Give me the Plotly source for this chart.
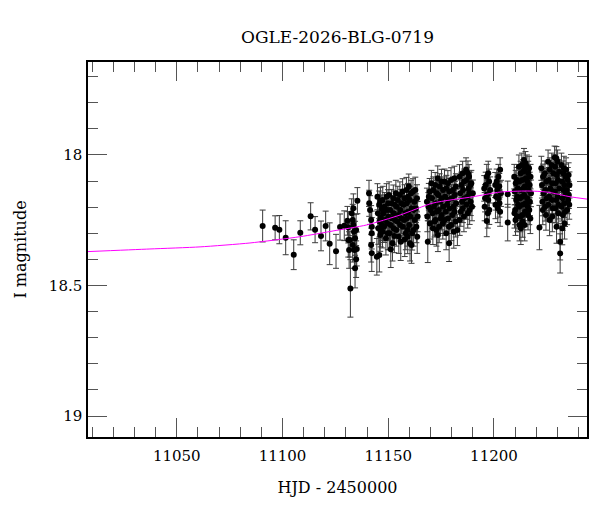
import plotly.graph_objects as go

# OGLE I-band photometry (HJD - 2450000, I mag, 1-sigma error)
hjd = [
    # early sparse points
    11090.6, 11096.5, 11098.5, 11101.5, 11105.3, 11108.4, 11113.3, 11115.4, 11118.2, 11120.4, 11122.3, 11125.3, 11127.2, 11129.2,
    # column near 11133
    11130.7, 11131.1, 11131.1, 11131.5, 11132.1, 11132.7, 11133.2, 11133.5, 11133.8, 11134.3, 11134.0, 11134.3, 11134.8, 11135.1, 11135.4, 11134.8, 11133.5, 11131.9, 11133.2,
    # column near 11142
    11140.9, 11141.0, 11141.4, 11141.9, 11142.2, 11142.2, 11141.9, 11142.2, 11144.6, 11145.8,
    # block 11144-11164
    11144.9, 11145.7, 11145.1, 11145.9, 11145.3, 11146.2,
    11147.4, 11148.3, 11147.8, 11148.6, 11148.0, 11147.3, 11148.9,
    11150.4, 11151.5, 11150.9, 11151.8, 11151.2, 11150.6, 11152.0, 11151.2,
    11153.6, 11154.5, 11154.0, 11154.9, 11154.3, 11153.8, 11155.0, 11155.9,
    11156.8, 11157.7, 11157.2, 11158.1, 11157.5, 11156.9, 11158.3, 11157.8,
    11159.7, 11160.8, 11160.2, 11161.1, 11160.5, 11159.9, 11161.3, 11160.3, 11161.0,
    11162.8, 11163.6, 11163.1, 11163.9, 11163.3, 11163.7,
    11146.3, 11146.9, 11146.5, 11147.0, 11146.4,
    11149.2, 11149.9, 11149.4, 11150.1, 11149.5, 11149.8,
    11152.4, 11153.1, 11152.6, 11153.2, 11152.5, 11152.9,
    11155.5, 11156.2, 11155.7, 11156.3, 11155.6,
    11158.6, 11159.3, 11158.8, 11159.4, 11158.7, 11159.1, 11159.2,
    11161.7, 11162.4, 11161.9, 11162.5, 11162.0,
    # block 11168-11190
    11168.7, 11168.3, 11169.0, 11168.5, 11169.2,
    11170.4, 11171.3, 11170.7, 11171.6, 11170.9, 11171.9, 11171.1,
    11173.4, 11174.3, 11173.7, 11174.6, 11173.9, 11174.8, 11174.1, 11173.5,
    11176.6, 11177.5, 11176.9, 11177.8, 11177.2, 11176.7, 11177.4,
    11178.8,
    11179.7, 11180.6, 11180.0, 11180.9, 11180.3, 11179.8, 11181.0,
    11182.7,
    11183.7, 11184.6, 11184.0, 11184.9, 11184.3, 11183.8,
    11186.8, 11187.7, 11187.1, 11188.0, 11187.4, 11186.9, 11187.6,
    11189.3, 11190.0, 11189.6,
    11169.6, 11170.1, 11169.7,
    11172.2, 11172.9, 11172.4, 11173.0, 11172.3, 11172.8,
    11175.2, 11175.9, 11175.4, 11176.0, 11175.3, 11175.8,
    11178.2, 11178.9, 11178.4, 11179.0, 11178.3, 11178.7,
    11181.3, 11182.0, 11181.5, 11182.1, 11181.4, 11181.9,
    11185.2, 11185.9, 11185.4, 11186.0, 11185.3, 11185.8,
    11188.2, 11188.9, 11188.4, 11189.0, 11188.5,
    # columns 11196-11207
    11196.1, 11196.6, 11197.3, 11197.7, 11198.2, 11197.3, 11197.1, 11196.6, 11197.8, 11196.9,
    11201.3, 11202.1, 11202.9, 11201.6, 11202.1, 11202.6, 11201.8, 11202.9, 11203.3, 11202.5,
    11206.5, 11206.5,
    11195.4, 11195.8, 11195.6,
    11200.6, 11201.0, 11200.7,
    # block 11209-11218
    11209.6, 11210.3, 11209.8, 11210.5, 11210.0, 11209.7, 11210.2,
    11211.8, 11212.6, 11212.0, 11212.8, 11212.3, 11211.9, 11212.5, 11212.1, 11212.7,
    11214.2, 11214.9, 11214.4, 11215.1, 11214.6, 11214.3, 11215.0, 11214.7, 11214.5,
    11216.6, 11217.3, 11216.9, 11217.5, 11217.0, 11216.7, 11217.2,
    11210.8, 11211.3, 11211.0, 11211.4, 11210.9,
    11213.2, 11213.8, 11213.4, 11213.9, 11213.3, 11213.7, 11213.5, 11213.6,
    11215.6, 11216.2, 11215.8, 11216.3, 11215.7, 11216.0, 11216.1,
    # block 11221-11236
    11221.5,
    11222.4, 11223.2, 11222.7, 11223.4, 11222.9, 11223.1,
    11225.6, 11226.4, 11225.9, 11226.6, 11226.1, 11225.7, 11226.3,
    11228.7, 11229.5, 11228.9, 11229.7, 11229.2, 11228.8, 11229.4, 11229.0, 11229.6,
    11231.3, 11231.3,
    11231.9, 11232.7, 11232.2, 11232.9, 11232.4, 11232.0, 11232.6, 11232.3,
    11234.1, 11234.9, 11234.4, 11235.1, 11234.6,
    11224.1, 11224.8, 11224.3, 11224.9, 11224.2, 11224.6,
    11227.3, 11228.0, 11227.5, 11228.1, 11227.4, 11227.8, 11227.6,
    11230.1, 11230.8, 11230.3, 11230.9, 11230.2, 11230.6, 11230.4,
    11233.1, 11233.8, 11233.3, 11233.9, 11233.2, 11233.6, 11233.4,
    11235.3, 11235.7, 11235.4, 11235.6,
]

mag = [
    18.272, 18.279, 18.286, 18.317, 18.382, 18.298, 18.235, 18.286, 18.310, 18.272, 18.340, 18.369, 18.276, 18.271,
    18.252, 18.277, 18.326, 18.364, 18.511, 18.223, 18.249, 18.268, 18.294, 18.319, 18.364, 18.434, 18.399, 18.360, 18.175, 18.287, 18.204, 18.326, 18.345,
    18.147, 18.185, 18.211, 18.249, 18.275, 18.300, 18.345, 18.376, 18.390, 18.383,
    18.160, 18.191, 18.223, 18.255, 18.281, 18.306,
    18.172, 18.198, 18.223, 18.249, 18.275, 18.294, 18.319,
    18.153, 18.185, 18.211, 18.243, 18.268, 18.300, 18.338, 18.361,
    18.147, 18.172, 18.198, 18.230, 18.255, 18.287, 18.313, 18.332,
    18.140, 18.166, 18.191, 18.223, 18.249, 18.275, 18.300, 18.323,
    18.121, 18.147, 18.172, 18.204, 18.236, 18.268, 18.300, 18.338, 18.345,
    18.134, 18.166, 18.204, 18.236, 18.275, 18.313,
    18.176, 18.207, 18.239, 18.268, 18.290,
    18.160, 18.185, 18.211, 18.236, 18.262, 18.300,
    18.166, 18.191, 18.223, 18.249, 18.281, 18.310,
    18.153, 18.185, 18.211, 18.243, 18.268,
    18.134, 18.160, 18.185, 18.217, 18.243, 18.287, 18.313,
    18.140, 18.179, 18.211, 18.249, 18.287,
    18.332, 18.179, 18.198, 18.236, 18.160,
    18.108, 18.134, 18.166, 18.198, 18.223, 18.255, 18.281,
    18.089, 18.121, 18.153, 18.179, 18.211, 18.243, 18.275, 18.306,
    18.102, 18.128, 18.160, 18.191, 18.217, 18.249, 18.300,
    18.338,
    18.096, 18.134, 18.166, 18.198, 18.230, 18.268, 18.294,
    18.287,
    18.083, 18.115, 18.147, 18.179, 18.217, 18.249,
    18.057, 18.070, 18.096, 18.128, 18.160, 18.191, 18.223,
    18.108, 18.147, 18.198,
    18.140, 18.211, 18.262,
    18.115, 18.147, 18.185, 18.217, 18.249, 18.287,
    18.102, 18.134, 18.166, 18.198, 18.230, 18.262,
    18.108, 18.140, 18.172, 18.204, 18.243, 18.275,
    18.089, 18.121, 18.153, 18.185, 18.217, 18.255,
    18.070, 18.102, 18.134, 18.166, 18.204, 18.236,
    18.083, 18.115, 18.147, 18.179, 18.211,
    18.115, 18.083, 18.070, 18.102, 18.134, 18.172, 18.223, 18.253, 18.211, 18.150,
    18.102, 18.083, 18.057, 18.134, 18.166, 18.185, 18.204, 18.217, 18.147, 18.120,
    18.150, 18.259,
    18.128, 18.166, 18.198,
    18.115, 18.160, 18.191,
    18.083, 18.108, 18.140, 18.172, 18.211, 18.223, 18.249,
    18.045, 18.070, 18.102, 18.134, 18.166, 18.198, 18.236, 18.268, 18.281,
    18.019, 18.032, 18.057, 18.089, 18.121, 18.153, 18.185, 18.217, 18.268,
    18.051, 18.083, 18.115, 18.147, 18.179, 18.211, 18.243,
    18.096, 18.128, 18.160, 18.191, 18.236,
    18.038, 18.064, 18.096, 18.128, 18.160, 18.191, 18.230, 18.255,
    18.045, 18.070, 18.102, 18.134, 18.166, 18.198, 18.230,
    18.278,
    18.051, 18.083, 18.115, 18.147, 18.179, 18.211,
    18.026, 18.057, 18.096, 18.128, 18.160, 18.191, 18.249,
    18.010, 18.013, 18.045, 18.077, 18.108, 18.140, 18.172, 18.204, 18.275,
    18.332, 18.377,
    18.038, 18.070, 18.102, 18.134, 18.166, 18.198, 18.230, 18.281,
    18.057, 18.096, 18.134, 18.172, 18.211,
    18.070, 18.102, 18.134, 18.166, 18.198, 18.230,
    18.038, 18.070, 18.108, 18.140, 18.172, 18.204, 18.236,
    18.026, 18.064, 18.096, 18.128, 18.160, 18.191, 18.223,
    18.051, 18.083, 18.115, 18.153, 18.185, 18.217, 18.262,
    18.077, 18.115, 18.153, 18.191,
]

mag_err = [
    0.061, 0.046, 0.054, 0.065, 0.057, 0.046, 0.052, 0.050, 0.057, 0.057, 0.080, 0.065, 0.050, 0.057,
    0.055, 0.060, 0.065, 0.070, 0.110, 0.055, 0.060, 0.060, 0.065, 0.065, 0.070, 0.075, 0.070, 0.065, 0.050, 0.060, 0.055, 0.065, 0.065,
    0.050, 0.050, 0.055, 0.055, 0.060, 0.060, 0.065, 0.070, 0.070, 0.065,
    0.050, 0.053, 0.056, 0.058, 0.061, 0.063,
    0.052, 0.054, 0.055, 0.058, 0.060, 0.062, 0.064,
    0.050, 0.053, 0.055, 0.057, 0.060, 0.063, 0.068, 0.070,
    0.050, 0.052, 0.054, 0.057, 0.059, 0.062, 0.064, 0.072,
    0.049, 0.052, 0.054, 0.056, 0.058, 0.061, 0.063, 0.066,
    0.048, 0.050, 0.052, 0.055, 0.058, 0.061, 0.064, 0.068, 0.070,
    0.049, 0.052, 0.055, 0.058, 0.061, 0.064,
    0.051, 0.054, 0.057, 0.060, 0.062,
    0.050, 0.052, 0.055, 0.057, 0.060, 0.063,
    0.051, 0.053, 0.056, 0.058, 0.062, 0.064,
    0.050, 0.053, 0.055, 0.058, 0.061,
    0.048, 0.051, 0.053, 0.056, 0.058, 0.062, 0.065,
    0.049, 0.052, 0.055, 0.059, 0.062,
    0.080, 0.052, 0.054, 0.058, 0.051,
    0.049, 0.050, 0.052, 0.054, 0.057, 0.059, 0.062,
    0.047, 0.049, 0.051, 0.053, 0.055, 0.058, 0.061, 0.064,
    0.048, 0.050, 0.052, 0.054, 0.056, 0.059, 0.063,
    0.070,
    0.047, 0.050, 0.052, 0.054, 0.057, 0.060, 0.063,
    0.060,
    0.046, 0.049, 0.051, 0.053, 0.056, 0.059,
    0.046, 0.047, 0.049, 0.051, 0.053, 0.055, 0.057,
    0.049, 0.051, 0.054,
    0.050, 0.055, 0.060,
    0.048, 0.050, 0.053, 0.055, 0.058, 0.062,
    0.047, 0.050, 0.052, 0.054, 0.057, 0.060,
    0.048, 0.050, 0.052, 0.055, 0.058, 0.061,
    0.046, 0.049, 0.051, 0.054, 0.056, 0.059,
    0.046, 0.048, 0.050, 0.052, 0.055, 0.058,
    0.046, 0.049, 0.051, 0.053, 0.055,
    0.049, 0.047, 0.046, 0.048, 0.050, 0.053, 0.057, 0.060, 0.055, 0.051,
    0.048, 0.047, 0.046, 0.050, 0.052, 0.053, 0.055, 0.056, 0.050, 0.049,
    0.050, 0.070,
    0.049, 0.052, 0.054,
    0.048, 0.051, 0.053,
    0.047, 0.049, 0.051, 0.053, 0.056, 0.057, 0.059,
    0.045, 0.046, 0.048, 0.050, 0.052, 0.054, 0.058, 0.061, 0.062,
    0.044, 0.045, 0.046, 0.048, 0.050, 0.052, 0.054, 0.056, 0.061,
    0.046, 0.047, 0.049, 0.051, 0.053, 0.056, 0.058,
    0.048, 0.050, 0.052, 0.054, 0.058,
    0.045, 0.046, 0.048, 0.050, 0.052, 0.054, 0.057, 0.060,
    0.045, 0.046, 0.048, 0.050, 0.052, 0.054, 0.057,
    0.085,
    0.046, 0.048, 0.050, 0.052, 0.054, 0.056,
    0.045, 0.046, 0.048, 0.050, 0.052, 0.054, 0.060,
    0.044, 0.045, 0.046, 0.048, 0.050, 0.052, 0.054, 0.056, 0.063,
    0.070, 0.075,
    0.045, 0.047, 0.049, 0.051, 0.053, 0.055, 0.058, 0.063,
    0.046, 0.048, 0.051, 0.053, 0.056,
    0.047, 0.049, 0.051, 0.053, 0.055, 0.058,
    0.045, 0.047, 0.049, 0.051, 0.053, 0.055, 0.058,
    0.045, 0.046, 0.048, 0.050, 0.052, 0.054, 0.057,
    0.046, 0.048, 0.050, 0.052, 0.054, 0.057, 0.060,
    0.047, 0.050, 0.052, 0.055,
]

# microlensing model curve
model_hjd = [11008.0, 11037.3, 11061.0, 11084.6, 11108.3, 11123.9, 11139.8, 11155.6,
             11171.2, 11190.1, 11202.9, 11215.7, 11225.1, 11236.0, 11244.0]
model_mag = [18.370, 18.360, 18.352, 18.337, 18.313, 18.291, 18.268, 18.230,
             18.184, 18.160, 18.142, 18.138, 18.142, 18.160, 18.169]

FONT = "DejaVu Serif"
TICK = "#555555"

fig = go.Figure()

fig.add_trace(go.Scatter(
    x=hjd, y=mag, mode="markers",
    marker=dict(color="black", size=6),
    error_y=dict(type="data", array=mag_err, visible=True, color="#3a3a3a", thickness=1, width=3),
))

# model drawn over the photometry, as in the original
fig.add_trace(go.Scatter(
    x=model_hjd, y=model_mag, mode="lines",
    line=dict(color="#ff00ff", width=1, shape="spline", smoothing=0.6),
    hoverinfo="skip",
))

# page body has an 8px margin, so the figure is 8px smaller than the window
fig.update_layout(
    width=592, height=504,
    margin=dict(l=80, r=13, t=54, b=75),
    plot_bgcolor="white", paper_bgcolor="white",
    showlegend=False,
    font=dict(family=FONT, color="black"),
    title=dict(text="OGLE-2026-BLG-0719", x=0.5, xref="paper", xanchor="center",
               y=1 - 29 / 504, yref="container", yanchor="middle",
               font=dict(family=FONT, size=17, color="black")),
)

fig.update_xaxes(
    range=[11008, 11244], showgrid=False, zeroline=False, automargin=False,
    showline=True, linecolor="black", linewidth=1.5, mirror="allticks",
    ticks="inside", ticklen=19, tickwidth=1.3, tickcolor=TICK,
    tick0=11000, dtick=50, tickformat="d", ticklabelstandoff=4,
    tickfont=dict(family=FONT, size=15, color="black"),
    minor=dict(ticks="inside", ticklen=10, tickwidth=1.3, tickcolor=TICK, dtick=10, tick0=11000),
    title=dict(text="HJD - 2450000", font=dict(family=FONT, size=16, color="black"), standoff=18),
)

fig.update_yaxes(
    range=[19.08, 17.644], showgrid=False, zeroline=False, automargin=False,
    showline=True, linecolor="black", linewidth=1.5, mirror="allticks",
    ticks="inside", ticklen=19, tickwidth=1.3, tickcolor=TICK,
    tick0=18, dtick=0.5, ticklabelstandoff=1,
    tickfont=dict(family=FONT, size=15, color="black"),
    minor=dict(ticks="inside", ticklen=10, tickwidth=1.3, tickcolor=TICK, dtick=0.1, tick0=18),
    title=dict(text="I magnitude", font=dict(family=FONT, size=16, color="black"), standoff=18),
)

fig.write_html("out.html")
